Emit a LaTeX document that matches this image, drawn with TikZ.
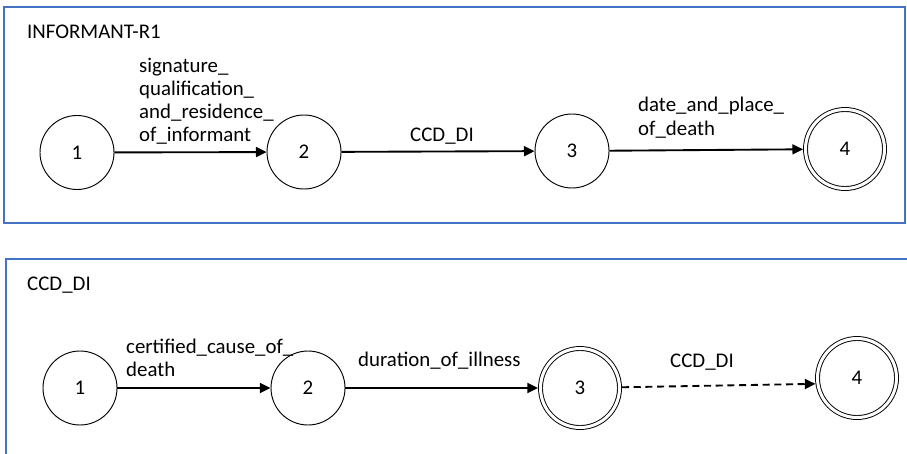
\documentclass[tikz,border=0pt]{standalone}
\usepackage{fontspec}
\setmainfont{Carlito}
\usetikzlibrary{arrows.meta}
\definecolor{framblue}{RGB}{68,114,196}

\begin{document}
\begin{tikzpicture}[
    x=0.03cm, y=-0.03cm,
    state/.style={draw, circle, line width=0.8pt, minimum size=2.22cm, inner sep=0pt, font=\fontsize{17.8}{19.9}\selectfont},
    final/.style={state, double, double distance=0.09cm, minimum size=2.37cm, outer sep=0.075cm},
    lbl/.style={anchor=base west, align=left, inner sep=0pt, font=\fontsize{17.8}{19.9}\selectfont},
    arr/.style={-{Triangle[length=9pt,width=8.5pt]}, line width=1.6pt},
    panel/.style={draw=framblue, line width=0.9pt}
]
\clip (0,0) rectangle (907,454);
\draw[panel] (4,7) rectangle (905,223);
\draw[panel] (6,259) rectangle (920,470);

\node[lbl] (ttop) at (27,38.5) {INFORMANT-R1};
\node[state] (a1) at (77,152.5) {1};
\node[state] (a2) at (304,152) {2};
\node[state] (a3) at (572,151) {3};
\node[final] (a4) at (845,149) {4};

\node[lbl] (l12) at (139,142) {signature\_\\qualification\_\\and\_residence\_\\of\_informant};
\node[lbl] (l23) at (410,142) {CCD\_DI};
\node[lbl] (l34) at (638,135) {date\_and\_place\_\\of\_death};

\draw[arr] (a1) -- (a2);
\draw[arr] (a2) -- (a3);
\draw[arr] (a3) -- (a4);

\node[lbl] (tbot) at (27,290) {CCD\_DI};
\node[state] (b1) at (80,388) {1};
\node[state] (b2) at (308,388) {2};
\node[final] (b3) at (580,388) {3};
\node[final] (b4) at (857,378) {4};

\node[lbl] (m12) at (126,376.7) {certified\_cause\_of\_\\death};
\node[lbl] (m23) at (358,366) {duration\_of\_illness};
\node[lbl] (m34) at (670,367.7) {CCD\_DI};

\draw[arr] (b1) -- (b2);
\draw[arr] (b2) -- (b3);
\draw[arr, dash pattern=on 6pt off 4pt] (b3) -- (b4.188);
\end{tikzpicture}
\end{document}
